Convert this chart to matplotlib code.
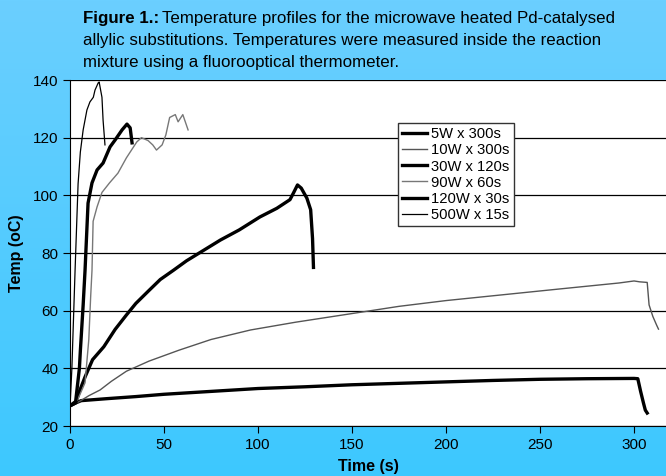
import matplotlib
matplotlib.use("Agg")
import matplotlib.pyplot as plt
import numpy as np

plt.rcParams['font.family'] = ['Liberation Sans', 'DejaVu Sans']

# temperature profiles (time s, temp oC)
t_5w = [0, 3, 6, 10, 20, 35, 50, 75, 100, 125, 150, 175, 200, 225, 250, 275, 300, 302, 303.5, 305, 306, 307]
T_5w = [27, 28, 28.8, 29, 29.5, 30.2, 31, 32, 33, 33.6, 34.3, 34.8, 35.3, 35.8, 36.2, 36.4, 36.5, 36.4, 32, 28, 25.5, 24.5]

t_10w = [0, 5, 10, 16, 22, 30, 42, 58, 75, 96, 120, 150, 175, 200, 230, 260, 292, 300, 303, 307, 308, 310, 312, 313]
T_10w = [27, 28.5, 30.5, 32.5, 35.5, 39, 42.5, 46.3, 50, 53.3, 56, 59, 61.5, 63.5, 65.5, 67.5, 69.6, 70.3, 70, 69.8, 62, 58, 55, 53.6]

t_30w = [0, 3, 5, 8, 12, 18, 24, 30, 35, 42, 48, 55, 62, 70, 80, 90, 101, 110, 117, 119, 121, 123, 126, 128, 129, 129.5]
T_30w = [27, 28, 32, 37, 43, 47.5, 53.5, 58.5, 62.5, 67, 70.8, 74, 77.3, 80.5, 84.5, 88, 92.5, 95.5, 98.5, 101, 103.6, 102.5, 99, 95, 85, 75]

t_90w = [0, 4, 8, 10, 11, 11.7, 12.3, 14.4, 17, 21, 25.5, 30, 35.5, 38, 41.5, 44, 46, 49, 51, 53, 56, 57.5, 60, 62.8]
T_90w = [27, 29, 35, 50, 65, 74, 91, 96, 101, 104.3, 107.7, 113, 118.5, 120, 119, 117.5, 115.7, 117.5, 121, 127, 128, 125.5, 128, 122.7]

t_120w = [0, 3, 5, 5.5, 7, 8, 9.6, 11.7, 14.4, 17.6, 21.3, 24, 27.7, 30.3, 32, 33]
T_120w = [27, 28.5, 40, 46, 62, 74, 97.3, 104.3, 108.8, 111.2, 116.8, 119.2, 122.7, 124.7, 123.4, 118.2]

t_500w = [0, 1, 2, 2.7, 4.3, 5.5, 7, 9, 10.6, 12.4, 13.3, 15, 15.5, 17, 17.6, 18.6]
T_500w = [26.5, 40, 60, 74, 104, 115, 122.7, 129.6, 132.4, 134, 136.5, 139, 139.3, 134, 126, 117.5]

fig = plt.figure(figsize=(6.66, 4.76), dpi=100)

# blue gradient background
bg = fig.add_axes([0, 0, 1, 1], zorder=-10)
top = np.array([107, 207, 255]) / 255
bot = np.array([61, 200, 254]) / 255
grad = np.linspace(0, 1, 256)[:, None, None]
img = top * (1 - grad) + bot * grad
bg.imshow(img, aspect='auto', extent=[0, 1, 0, 1])
bg.axis('off')

ax = fig.add_axes([70 / 666, 1 - 426 / 476, 596 / 666, 346 / 476])
ax.set_facecolor('white')

ax.plot(t_5w, T_5w, color='black', lw=2.4, label='5W x 300s')
ax.plot(t_10w, T_10w, color='#555555', lw=1.0, label='10W x 300s')
ax.plot(t_30w, T_30w, color='black', lw=2.4, label='30W x 120s')
ax.plot(t_90w, T_90w, color='#777777', lw=1.0, label='90W x 60s')
ax.plot(t_120w, T_120w, color='black', lw=2.4, label='120W x 30s')
ax.plot(t_500w, T_500w, color='black', lw=0.9, label='500W x 15s')

ax.set_xlim(0, 317)
ax.set_ylim(20, 140)
ax.set_xticks(range(0, 301, 50))
ax.set_yticks(range(20, 141, 20))
ax.yaxis.grid(True, color='black', lw=0.9)
ax.set_axisbelow(True)
for s in ['top', 'right']:
    ax.spines[s].set_visible(False)
ax.tick_params(direction='out', length=5, labelsize=11, colors='black')

ax.set_xlabel('Time (s)', fontsize=11.5, fontweight='bold', labelpad=5)
ax.set_ylabel('Temp (oC)', fontsize=11.5, fontweight='bold', labelpad=6)

leg = ax.legend(loc='upper left', bbox_to_anchor=(0.538, 0.897), fontsize=10.6,
                frameon=True, fancybox=False, edgecolor='#333333', framealpha=1,
                handlelength=1.7, handletextpad=0.25, labelspacing=0.14,
                borderpad=0.3)
leg.get_frame().set_linewidth(1.0)

fig.text(83 / 666, 1 - 18 / 476, 'Figure 1.:', fontsize=12.2, fontweight='bold', va='center')
fig.text(162 / 666, 1 - 18 / 476, 'Temperature profiles for the microwave heated Pd-catalysed',
         fontsize=12.2, va='center')
fig.text(83 / 666, 1 - 40 / 476, 'allylic substitutions. Temperatures were measured inside the reaction',
         fontsize=12.2, va='center')
fig.text(83 / 666, 1 - 62 / 476, 'mixture using a fluorooptical thermometer.', fontsize=12.2, va='center')

fig.savefig('out.png', dpi=100)
